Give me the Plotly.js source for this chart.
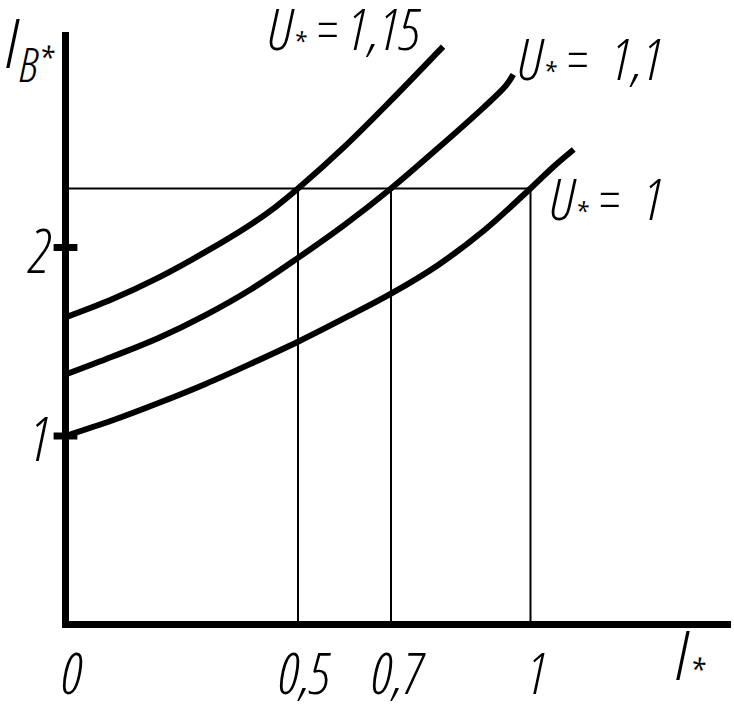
<!DOCTYPE html>
<html><head><meta charset="utf-8">
<script src="https://cdn.plot.ly/plotly-3.0.1.min.js"></script>
<style>html,body{margin:0;padding:0;background:#fff}#chart{width:734px;height:716px}</style>
</head><body><div id="chart"></div>
<script>
// ---- data ----
const curveNames = ['U* = 1', 'U* = 1,1', 'U* = 1,15'];
const curveLabels = ['U<sub>*</sub> =\u00a0 1', 'U<sub>*</sub> =\u00a0 1,1', 'U<sub>*</sub> = 1,15'];

const xU100 = [0, 0.1, 0.2, 0.3, 0.4, 0.5, 0.6, 0.7, 0.8, 0.9, 1.0, 1.05, 1.093];
const yU100 = [1.000, 1.082, 1.175, 1.275, 1.385, 1.500, 1.625, 1.755, 1.905, 2.090, 2.313, 2.430, 2.520];

const xU110 = [0, 0.1, 0.2, 0.3, 0.4, 0.5, 0.6, 0.7, 0.8, 0.9, 0.947, 0.963];
const yU110 = [1.326, 1.420, 1.520, 1.640, 1.780, 1.945, 2.120, 2.313, 2.525, 2.745, 2.859, 2.918];

const xU115 = [0, 0.1, 0.2, 0.3, 0.4, 0.45, 0.5, 0.6, 0.7, 0.8, 0.812];
const yU115 = [1.629, 1.725, 1.840, 1.975, 2.125, 2.212, 2.313, 2.535, 2.780, 3.035, 3.066];

const refLevel = 2.313;
const refX = [0.5, 0.7, 1];

const xTickVals = [0, 0.5, 0.7, 1];
const xTickText = ['0', '0,5', '0,7', '1'];
const yTickVals = [1, 2];
const yTickText = ['1', '2'];
const yTitle = 'I<sub>В*</sub>';
const xTitle = 'I<sub>*</sub>';

// ---- drawing ----
const FONT = "'Open Sans Condensed Light', 'Roboto Condensed Light', 'Roboto Condensed', 'Roboto', sans-serif";
const fnt = (size) => ({family: FONT, size: size, color: '#000', weight: 300, style: 'italic'});

const curveStyle = {color: '#000', width: 6, shape: 'spline', smoothing: 1};

const vx = [], vy = [];
refX.forEach((x, i) => { if (i) { vx.push(null); vy.push(null); } vx.push(x, x); vy.push(0, refLevel); });

const traces = [
  {x: vx, y: vy, mode: 'lines', line: {color: '#000', width: 2}, hoverinfo: 'skip', showlegend: false},
  {x: [0, Math.max(...refX)], y: [refLevel, refLevel], mode: 'lines', line: {color: '#000', width: 2}, hoverinfo: 'skip', showlegend: false},
  {x: xU100, y: yU100, name: curveNames[0], mode: 'lines', line: curveStyle, showlegend: false},
  {x: xU110, y: yU110, name: curveNames[1], mode: 'lines', line: curveStyle, showlegend: false},
  {x: xU115, y: yU115, name: curveNames[2], mode: 'lines', line: curveStyle, showlegend: false},
  {x: yTickVals.map(() => 0), y: yTickVals, mode: 'markers', hoverinfo: 'skip', showlegend: false, cliponaxis: false,
   marker: {symbol: 'line-ew', size: 17, color: '#000', line: {color: '#000', width: 7}}}
];

const L = 62, R = 3, T = 32, B = 88;
const W = 734, H = 716;
const pw = W - L - R, ph = H - T - B;
const xs = 465, ys = 188.5;           // px per unit
const x0 = -3.5 / xs, y0 = -3.5 / ys;
const px = (p) => (p - L) / pw;        // pixel -> paper (labels only)
const py = (p) => (H - B - p) / ph;

const layout = {
  width: W, height: H,
  margin: {l: L, r: R, t: T, b: B, pad: 0},
  paper_bgcolor: '#fff', plot_bgcolor: '#fff',
  showlegend: false,
  xaxis: {range: [x0, x0 + pw / xs], showgrid: false, zeroline: true, zerolinewidth: 7, zerolinecolor: '#000',
          showline: false, ticks: '', tickvals: xTickVals, ticktext: xTickText, tickfont: fnt(57),
          ticklabelstandoff: 8, ticklabelshift: 5, fixedrange: true},
  yaxis: {range: [y0, y0 + ph / ys], showgrid: false, zeroline: true, zerolinewidth: 7, zerolinecolor: '#000',
          showline: false, ticks: '', tickvals: yTickVals, ticktext: yTickText, tickfont: fnt(60),
          ticklabelstandoff: 12, ticklabelshift: 4, fixedrange: true},
  annotations: [
    {xref: 'paper', yref: 'paper', x: px(264), y: py(31), xanchor: 'left', yanchor: 'middle', showarrow: false, text: curveLabels[2], font: fnt(58)},
    {xref: 'paper', yref: 'paper', x: px(514), y: py(61), xanchor: 'left', yanchor: 'middle', showarrow: false, text: curveLabels[1], font: fnt(58)},
    {xref: 'paper', yref: 'paper', x: px(546), y: py(201), xanchor: 'left', yanchor: 'middle', showarrow: false, text: curveLabels[0], font: fnt(58)},
    {xref: 'paper', yref: 'paper', x: px(2), y: py(-7), xanchor: 'left', yanchor: 'top', showarrow: false, text: yTitle, font: fnt(68)},
    {xref: 'paper', yref: 'paper', x: px(672), y: py(657), xanchor: 'left', yanchor: 'middle', showarrow: false, text: xTitle, font: fnt(68)}
  ]
};

Plotly.newPlot('chart', traces, layout, {displayModeBar: false, staticPlot: true});
</script></body></html>
